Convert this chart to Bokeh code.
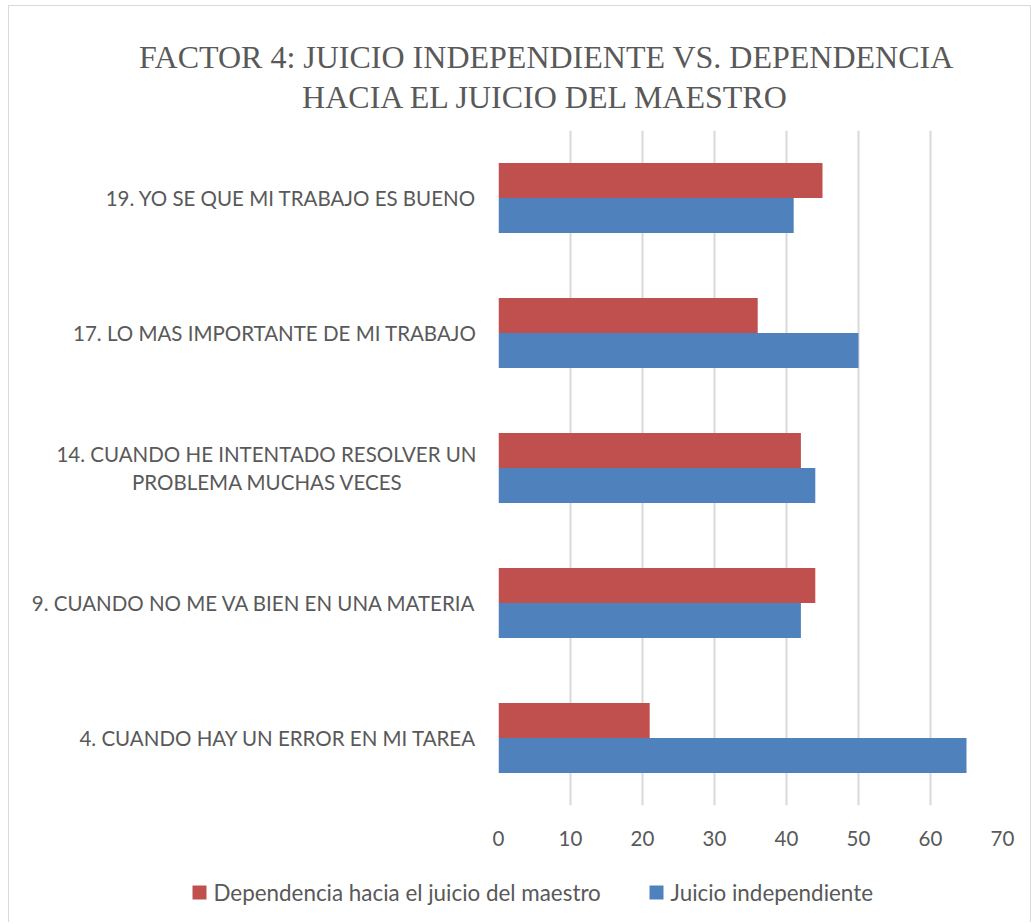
from bokeh.plotting import figure
from bokeh.models import ColumnDataSource, FactorRange, Range1d
from bokeh.core.properties import value
from bokeh.layouts import column
from bokeh.transform import dodge
from bokeh.embed import file_html
from bokeh.resources import INLINE

categories = [
    "4. CUANDO HAY UN ERROR EN MI TAREA",
    "9. CUANDO NO ME VA BIEN EN UNA MATERIA",
    "14. CUANDO HE INTENTADO RESOLVER UN\nPROBLEMA MUCHAS VECES",
    "17. LO MAS IMPORTANTE DE MI TRABAJO",
    "19. YO SE QUE MI TRABAJO ES BUENO",
]
dependencia = [21, 44, 42, 36, 45]
independiente = [65, 42, 44, 50, 41]
x_ticks = [0, 10, 20, 30, 40, 50, 60, 70]

series_names = ["Dependencia hacia el juicio del maestro", "Juicio independiente"]
colors = ["#C0504D", "#4F81BD"]
title_lines = ["FACTOR 4: JUICIO INDEPENDIENTE VS. DEPENDENCIA", "HACIA EL JUICIO DEL MAESTRO"]

FONT = "Lato"
GRAY = "#595959"
W = 1021          # content width (px)
H_TITLE, H_MAIN, H_LEG = 112, 737, 67

# wrapped labels: pad the second line so the two lines look centred
def centre_pad(label, n=14):
    if "\n" in label:
        a, b = label.split("\n")
        return a + "\n" + b + "\u00a0" * n
    return label

factors = [centre_pad(c) for c in categories]


def blank(height):
    f = figure(width=W, height=height, x_range=Range1d(0, W), y_range=Range1d(0, height),
               x_axis_location=None, y_axis_location=None,
               output_backend="svg", toolbar_location=None,
               min_border=0, min_border_left=0, min_border_right=0,
               min_border_top=0, min_border_bottom=0)
    f.grid.visible = False
    f.outline_line_color = None
    f.frame_align = False
    return f

# ---- title strip
tf = blank(H_TITLE)
tf.text(x=[537, 537], y=[62, 22], text=title_lines,
        text_align="center", text_baseline="middle",
        text_font=value("Liberation Serif"), text_font_size="32px", text_color=GRAY)

# ---- main chart
source = ColumnDataSource(dict(cat=factors, dep=dependencia, ind=independiente))
p = figure(
    width=W, height=H_MAIN,
    y_range=FactorRange(*factors),
    x_range=(0, 70),
    output_backend="svg", toolbar_location=None,
    min_border_left=489, min_border_right=28,
    min_border_top=12, min_border_bottom=50,
)
p.outline_line_color = None
p.frame_align = False

p.hbar(y=dodge("cat", 0.13, range=p.y_range), right="dep", left=0, height=0.26,
       source=source, color=colors[0], line_color=None)
p.hbar(y=dodge("cat", -0.13, range=p.y_range), right="ind", left=0, height=0.26,
       source=source, color=colors[1], line_color=None)

p.xaxis.ticker = x_ticks
p.xaxis.axis_line_color = None
p.xaxis.major_tick_line_color = None
p.xaxis.minor_tick_line_color = None
p.xaxis.major_label_text_font = FONT
p.xaxis.major_label_text_font_size = "20.5px"
p.xaxis.major_label_text_color = GRAY
p.xaxis.major_label_standoff = 19

p.yaxis.axis_line_color = None
p.yaxis.major_tick_line_color = None
p.yaxis.major_label_text_font = FONT
p.yaxis.major_label_text_font_size = "20.5px"
p.yaxis.major_label_text_color = GRAY
p.yaxis.major_label_text_line_height = 1.2
p.yaxis.major_label_standoff = 16

p.xgrid.ticker = x_ticks
p.xgrid.grid_line_color = "#d9d9d9"
p.xgrid.grid_line_width = 2
p.ygrid.grid_line_color = None

# ---- legend strip
lf = blank(H_LEG)
leg_x = [190, 647]   # swatch centres (px)
leg = ColumnDataSource(dict(x=leg_x, y=[30, 30], c=colors, t=series_names,
                            tx=[x + 14 for x in leg_x]))
lf.rect(x="x", y="y", width=14, height=14, fill_color="c", line_color=None, source=leg)
lf.text(x="tx", y="y", text="t", text_align="left", text_baseline="middle",
        text_font=value(FONT), text_font_size="22.4px", text_color=GRAY, source=leg)

layout = column(tf, p, lf, spacing=0,
                styles={"border-style": "solid", "border-color": "#d9d9d9",
                        "border-width": "1px 1px 0 1px", "margin": "5px 0 0 8px"})

open("out.html", "w").write(file_html(layout, INLINE))
